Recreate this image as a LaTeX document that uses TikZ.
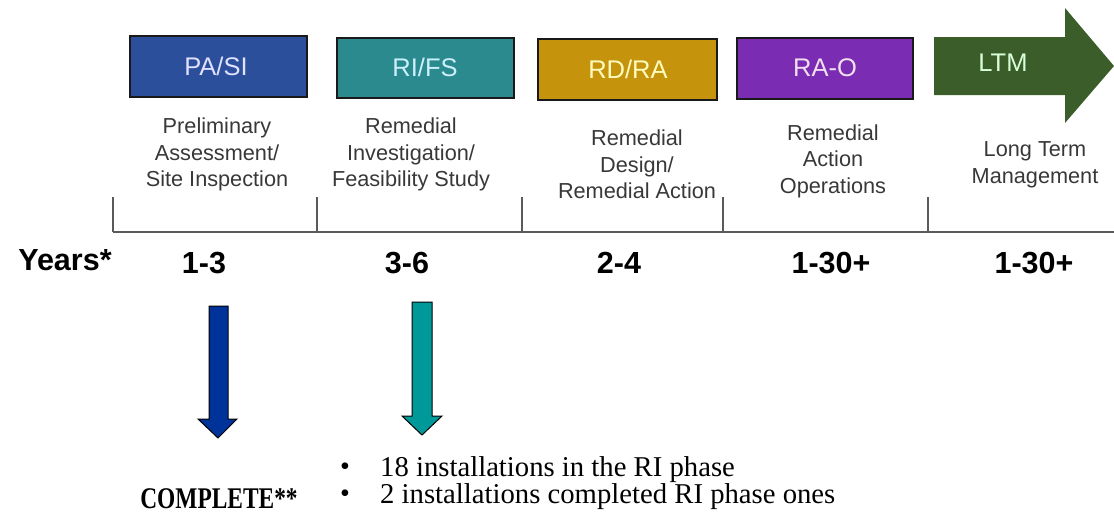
\documentclass[tikz,border=0pt]{standalone}
\usepackage{fontspec}
\setmainfont{Liberation Serif}
\setsansfont{Liberation Sans}
\usetikzlibrary{calc}

\definecolor{pasi}{HTML}{2C4F9C}
\definecolor{rifs}{HTML}{2B8A8E}
\definecolor{rdra}{HTML}{C6930C}
\definecolor{rao}{HTML}{7A2CB3}
\definecolor{ltm}{HTML}{3A5D2A}
\definecolor{desc}{HTML}{383838}
\definecolor{axis}{HTML}{5A5A5A}
\definecolor{downblue}{HTML}{003399}
\definecolor{downteal}{HTML}{009999}

\tikzset{
  phasebox/.style={draw=black!90, line width=2pt, inner sep=0pt},
  phaselabel/.style={font=\sffamily\fontsize{25.5}{29}\selectfont},
  phasedesc/.style={font=\sffamily\fontsize{21.7}{26.5}\selectfont, text=desc, align=center, inner sep=0pt},
  yearlabel/.style={font=\sffamily\bfseries\fontsize{30.5}{35}\selectfont, anchor=base, inner sep=0pt},
  axisline/.style={draw=axis, line width=1.3pt},
  downarrow/.style={draw=black, line width=1pt, line join=miter},
  bodytext/.style={font=\rmfamily\fontsize{28.7}{32}\selectfont, anchor=base west, inner sep=0pt},
}

\begin{document}
\begin{tikzpicture}[x=1pt,y=-1pt]
\useasboundingbox (0,0) rectangle (1114,517);

% phase boxes
\filldraw[phasebox, fill=pasi] (130,36) rectangle (307,97);
\filldraw[phasebox, fill=rifs] (337,38) rectangle (514,98);
\filldraw[phasebox, fill=rdra] (538,39) rectangle (717,100);
\filldraw[phasebox, fill=rao]  (737,38) rectangle (913,99);
% long term management block arrow
\fill[ltm] (934,37) -- (1065,37) -- (1065,8) -- (1114,66) -- (1065,123) -- (1065,95) -- (934,95) -- cycle;

\node[phaselabel, text=blue!12!white]   (pasi) at (216,66) {PA/SI};
\node[phaselabel, text=cyan!20!white]   (rifs) at (425,67) {RI/FS};
\node[phaselabel, text=yellow!25!white] (rdra) at (628,69) {RD/RA};
\node[phaselabel, text=violet!12!white] (rao)  at (825,68) {RA-O};
\node[phaselabel, text=green!15!white]  (ltm)  at (1003,63) {LTM};

% phase descriptions
\node[phasedesc] (dpasi) at (217,154.5) {Preliminary\\Assessment/\\Site Inspection};
\node[phasedesc] (drifs) at (411,154.5) {Remedial\\Investigation/\\Feasibility Study};
\node[phasedesc] (drdra) at (637,164.5) {Remedial\\Design/\\Remedial Action};
\node[phasedesc] (drao)  at (833,161) {Remedial\\Action\\Operations};
\node[phasedesc] (dltm)  at (1035,165) {Long Term\\Management};

% timeline axis with phase ticks
\coordinate (t0) at (113,232);
\coordinate (tend) at (1114,232);
\draw[axisline] (t0) -- (tend);
\foreach \x in {113,317,522,723,928}
  \draw[axisline] (\x,197) -- (\x,232);

% durations
\node[yearlabel] (years) at (65,270) {Years*};
\node[yearlabel] (y1) at (204,273) {1-3};
\node[yearlabel] (y2) at (407,273) {3-6};
\node[yearlabel] (y3) at (619,273) {2-4};
\node[yearlabel] (y4) at (831,273) {1-30+};
\node[yearlabel] (y5) at (1034,273) {1-30+};

% status arrows
\filldraw[downarrow, fill=downblue] (209,306) -- (228,306) -- (228,419) -- (237,419) -- (218,438) -- (198,419) -- (209,419) -- cycle;
\filldraw[downarrow, fill=downteal] (412,302) -- (432,302) -- (432,416) -- (442,416) -- (422,435) -- (402,416) -- (412,416) -- cycle;

% status text
\node[font=\rmfamily\bfseries\fontsize{30}{34}\selectfont, anchor=base, inner sep=0pt] (done) at (219,508) {\scalebox{0.78}[1]{COMPLETE**}};
\node[bodytext, anchor=base] (b1) at (345,475) {\fontsize{28}{32}\selectfont •};
\node[bodytext, anchor=base] (b2) at (345,502) {\fontsize{28}{32}\selectfont •};
\node[bodytext] (l1) at (380,476) {18 installations in the RI phase};
\node[bodytext] (l2) at (380,503) {2 installations completed RI phase ones};
\end{tikzpicture}
\end{document}
